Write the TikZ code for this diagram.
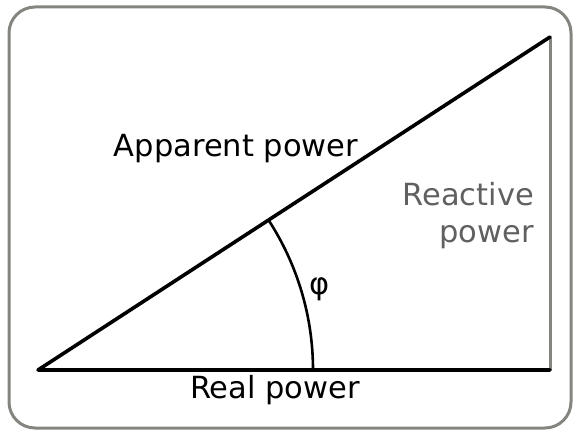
\documentclass[tikz,border=0pt]{standalone}
\usepackage{fontspec}
\setmainfont{DejaVu Sans}
\usetikzlibrary{positioning}
\definecolor{framegray}{HTML}{858580}
\definecolor{labelgray}{HTML}{606060}

\begin{document}
\begin{tikzpicture}[
    x=1pt, y=-1pt,
    every node/.style={font=\fontsize{30.5}{37}\selectfont, inner sep=0pt},
    frame/.style={draw=framegray, line width=3pt, rounded corners=26pt},
    side/.style={line width=3.6pt, line cap=round, line join=round},
    opposite/.style={draw=framegray, line width=3pt},
    anglearc/.style={line width=2.6pt}
]
\useasboundingbox (0,0) rectangle (576,430);
\draw[frame] (9,7) rectangle (571,428);
% triangle corners
\coordinate (origin) at (38,370);
\coordinate (base) at (550,370);
\coordinate (tip) at (550,37);
\draw[opposite] (base) -- (tip);
\draw[side] (base) -- (origin) -- (tip);
\draw[anglearc] (313,370) arc[start angle=0, end angle=-33.04, radius=275];
% labels
\node[anchor=base] (apparent) at (236,157) {Apparent power};
\node[anchor=base] (real) at (275,399) {Real power};
\node[anchor=base east, align=right, text=labelgray] (reactive) at (534,243) {Reactive\\power};
\node (phi) at (320,289) {φ};
\end{tikzpicture}
\end{document}
